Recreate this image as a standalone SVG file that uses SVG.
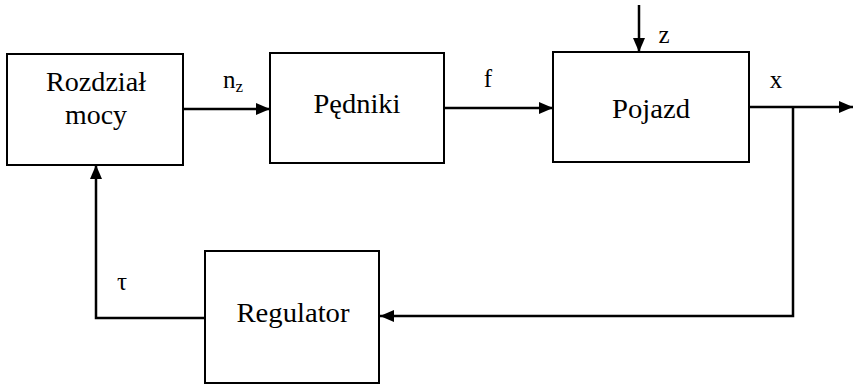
<svg xmlns="http://www.w3.org/2000/svg" width="853" height="384" viewBox="0 0 853 384">
<style>
.box{fill:#fff;stroke:#000;stroke-width:2}
.c{fill:none;stroke:#000;stroke-width:2.5}
text{font-family:"Liberation Serif","DejaVu Serif","Noto Serif",serif;fill:#000;text-anchor:middle}
.t{font-size:28px}
.l{font-size:25px}
</style>
<defs>
<marker id="ah" viewBox="0 0 14 12" refX="14" refY="6" markerWidth="14" markerHeight="12" markerUnits="userSpaceOnUse" orient="auto">
<path d="M0,0 L14,6 L0,12 Z" fill="#000"/>
</marker>
</defs>
<g id="connectors">
<line class="c" x1="183" y1="109" x2="270" y2="109" marker-end="url(#ah)"/>
<line class="c" x1="444" y1="108" x2="553" y2="108" marker-end="url(#ah)"/>
<line class="c" x1="639" y1="5" x2="639" y2="52" marker-end="url(#ah)"/>
<line class="c" x1="749" y1="107" x2="853" y2="107" marker-end="url(#ah)"/>
<polyline class="c" points="793,107 793,316 380,316" marker-end="url(#ah)"/>
<polyline class="c" points="205,318 96,318 96,165" marker-end="url(#ah)"/>
<text class="l" x="223" y="88" text-anchor="start" style="text-anchor:start">n<tspan font-size="17" dy="4">z</tspan></text>
<text class="l" x="488" y="87">f</text>
<text class="l" x="664" y="43">z</text>
<text class="l" x="776" y="88">x</text>
<text class="l" x="122" y="290">τ</text>
</g>
<g id="rozdzial">
<rect class="box" x="7" y="54" width="176" height="111"/>
<text class="t" x="96" y="91" textLength="100" lengthAdjust="spacingAndGlyphs">Rozdział</text>
<text class="t" x="96" y="124" textLength="62" lengthAdjust="spacingAndGlyphs">mocy</text>
</g>
<g id="pedniki">
<rect class="box" x="270" y="53" width="174" height="110"/>
<text class="t" x="357" y="113" textLength="87" lengthAdjust="spacingAndGlyphs">Pędniki</text>
</g>
<g id="pojazd">
<rect class="box" x="553" y="52" width="196" height="110"/>
<text class="t" x="651" y="118" textLength="78" lengthAdjust="spacingAndGlyphs">Pojazd</text>
</g>
<g id="regulator">
<rect class="box" x="205" y="251" width="174" height="132"/>
<text class="t" x="293" y="322" textLength="113" lengthAdjust="spacingAndGlyphs">Regulator</text>
</g>
</svg>
